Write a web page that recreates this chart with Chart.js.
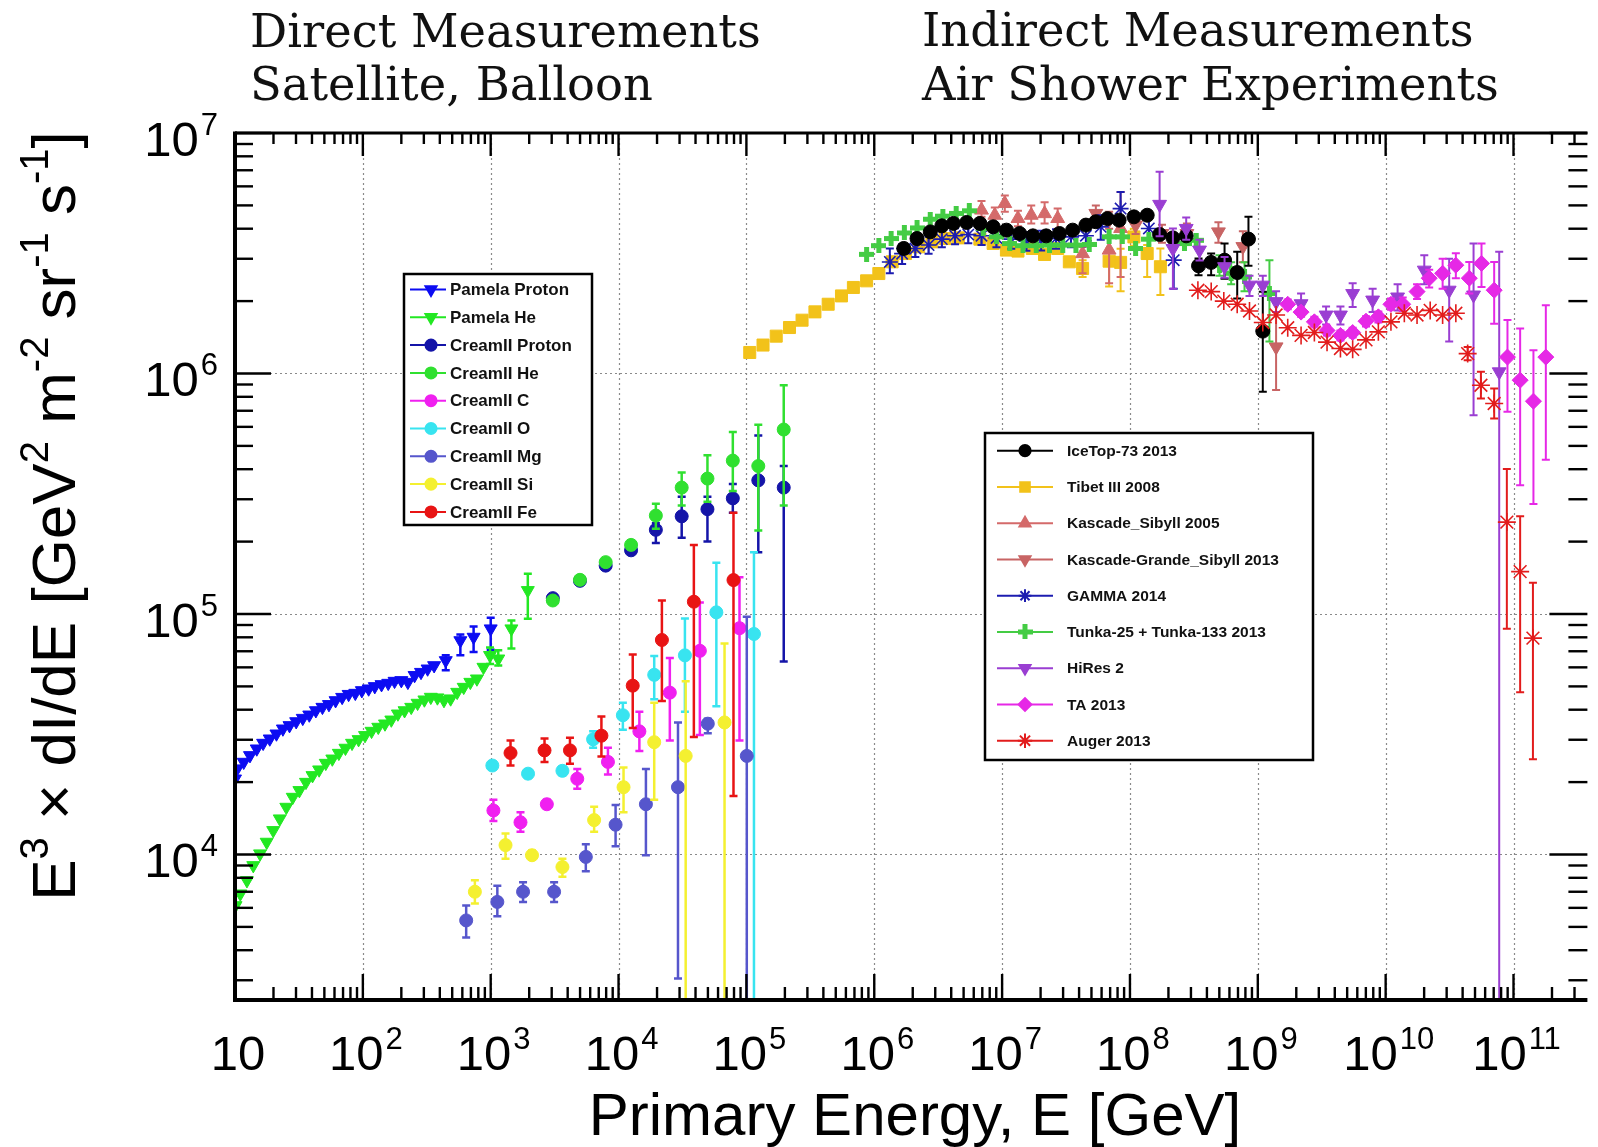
<!DOCTYPE html>
<html>
<head>
<meta charset="utf-8">
<script src="https://cdn.jsdelivr.net/npm/chart.js@4.4.1/dist/chart.umd.min.js"></script>
<style>
html, body { margin: 0; padding: 0; background: #fff; }
#wrap { width: 1598px; height: 1147px; }
</style>
</head>
<body>
<div id="wrap"><canvas id="spectrum" width="1598" height="1147"></canvas></div>
<script>
// ---- data: energy E [GeV], flux E^3 dI/dE, error bar low / high (null = no bar) ----
var pamelaProtonE = [10, 10.4, 11.7, 13.1, 14.8, 16.6, 18.7, 21.1, 23.7, 26.7, 30.1, 33.9, 38.1, 42.9, 48.3, 54.3, 61.2, 68.9, 77.4, 87.3, 98.2, 111, 124, 140, 158, 177, 200, 225, 254, 285, 321, 361, 445, 579, 735, 1000];
var pamelaProtonF = [20650, 22750, 24230, 25830, 27530, 29060, 30290, 31770, 33330, 34420, 35730, 36900, 38100, 39700, 41000, 42100, 43700, 45100, 46400, 46900, 48100, 48900, 50000, 50960, 51600, 52600, 52960, 52100, 55600, 57300, 59200, 61100, 64100, 77600, 80200, 86900];
var pamelaProtonLo = [null, null, null, null, null, null, null, null, null, null, null, null, null, null, null, null, null, null, null, null, null, null, null, null, null, null, null, null, null, null, null, null, 58300, 67300, 69500, 71000];
var pamelaProtonHi = [null, null, null, null, null, null, null, null, null, null, null, null, null, null, null, null, null, null, null, null, null, null, null, null, null, null, null, null, null, null, null, null, 67300, 82200, 88700, 96400];

var pamelaHeE = [10.1, 11.0, 12.4, 13.9, 15.7, 17.7, 19.9, 22.4, 25.2, 28.3, 31.9, 35.9, 40.4, 45.5, 51.3, 57.7, 64.9, 73.1, 82.3, 92.6, 104, 117, 132, 149, 167, 188, 212, 239, 268, 303, 340, 383, 431, 486, 547, 615, 693, 780, 878, 988, 1146, 1452, 1951];
var pamelaHeF = [6140, 6870, 7800, 9010, 10080, 11270, 12600, 14090, 15750, 17330, 18480, 20000, 21330, 22520, 23990, 25000, 26400, 27720, 29060, 30100, 31290, 32600, 33880, 34970, 36310, 38470, 39700, 41000, 42630, 44010, 45140, 44880, 43750, 44450, 47340, 49660, 52100, 53800, 60150, 67350, 65150, 86900, 125400];
var pamelaHeLo = [null, null, null, null, null, null, null, null, null, null, null, null, null, null, null, null, null, null, null, null, null, null, null, null, null, null, null, null, null, null, null, null, null, null, null, null, null, null, null, 62000, 61100, 71800, 95500];
var pamelaHeHi = [null, null, null, null, null, null, null, null, null, null, null, null, null, null, null, null, null, null, null, null, null, null, null, null, null, null, null, null, null, null, null, null, null, null, null, null, null, null, null, 72500, 70600, 94000, 146900];

var creamE = [3060, 4990, 7930, 12530, 19580, 31180, 49580, 78300, 123900, 195900];
var creamProtonF = [116400, 137400, 158900, 184000, 223900, 254800, 272800, 302600, 359600, 335500];
var creamProtonLo = [113000, 133000, 154000, 178000, 197300, 207500, 200400, 263600, 180800, 63400];
var creamProtonHi = [120000, 142000, 164000, 190000, 238300, 307600, 307600, 347500, 552100, 412300];
var creamHeF = [113800, 138700, 164300, 193800, 256600, 335500, 365700, 434300, 412300, 584800];
var creamHeLo = [110000, 134000, 158000, 186000, 226000, 282400, 292700, 324300, 222300, 282400];
var creamHeHi = [117500, 143500, 170500, 201500, 287600, 387300, 457100, 571500, 612500, 893000];

var creamCE = [1050, 1710, 2748, 4753, 8260, 14550, 25180, 43250, 88310];
var creamCF = [15240, 13610, 16180, 20650, 24270, 32510, 47100, 70300, 87300];
var creamCLo = [13770, 12420, 15500, 18750, 21530, 26920, 29790, 31410, 29790];
var creamCHi = [16900, 15000, 16900, 22650, 27800, 39270, 65600, 111700, 142200];

var creamOE = [1030, 1959, 3639, 6324, 10810, 19010, 33040, 58210, 114600];
var creamOF = [23440, 21680, 22280, 30130, 37930, 55850, 67300, 101600, 82600];
var creamOLo = [22500, 20800, 21400, 27800, 33040, 44260, 39270, 41300, 1000];
var creamOHi = [24400, 22600, 23200, 32510, 42760, 66830, 95700, 163300, 180700];

var creamMgE = [643, 1127, 1791, 3133, 5546, 9480, 16370, 29170, 49890, 100700];
var creamMgF = [5320, 6350, 7000, 7000, 9770, 13300, 16180, 19050, 34990, 25700];
var creamMgLo = [4520, 5530, 6350, 6350, 8510, 10810, 9930, 3050, 31910, 1000];
var creamMgHi = [6140, 7410, 7670, 7670, 11020, 16070, 22650, 35400, 36640, 97500];

var creamSiE = [752, 1306, 2104, 3639, 6442, 10940, 19010, 33500, 67450];
var creamSiF = [7000, 10940, 9930, 8870, 13900, 19050, 29310, 25700, 35400];
var creamSiLo = [6250, 9590, 9500, 8090, 12420, 15000, 16900, 1000, 1000];
var creamSiHi = [7820, 12220, 10400, 9590, 15780, 23010, 42760, 52480, 75340];

var creamFeE = [1429, 2636, 4169, 7345, 12910, 21830, 38820, 79250];
var creamFeF = [26420, 27100, 27100, 31190, 50350, 77980, 112500, 138400];
var creamFeLo = [23440, 24270, 23820, 25530, 33570, 43450, 30830, 17500];
var creamFeHi = [29790, 30340, 30550, 37500, 67920, 113800, 193600, 263600];

var iceTopE = [1.702e6, 2.160e6, 2.742e6, 3.377e6, 4.159e6, 5.280e6, 6.702e6, 8.511e6, 1.081e7, 1.372e7, 1.742e7, 2.211e7, 2.807e7, 3.564e7, 4.524e7, 5.408e7, 6.668e7, 8.222e7, 1.074e8, 1.364e8, 1.706e8, 2.168e8, 2.754e8, 3.439e8, 4.315e8, 5.495e8, 6.902e8, 8.451e8, 1.094e9];
var iceTopF = [3.311e6, 3.640e6, 3.880e6, 4.111e6, 4.207e6, 4.246e6, 4.207e6, 4.074e6, 3.945e6, 3.820e6, 3.735e6, 3.735e6, 3.820e6, 3.945e6, 4.140e6, 4.276e6, 4.406e6, 4.342e6, 4.480e6, 4.551e6, 3.785e6, 3.664e6, 3.735e6, 2.805e6, 2.897e6, 2.958e6, 2.630e6, 3.622e6, 1.500e6];
var iceTopLo = [null, null, null, null, null, null, null, null, null, null, null, null, null, null, null, null, null, null, null, null, null, null, null, 2.564e6, 2.56e6, 2.48e6, 2.05e6, 2.805e6, 8.39e5];
var iceTopHi = [null, null, null, null, null, null, null, null, null, null, null, null, null, null, null, null, null, null, null, null, null, null, null, 3.006e6, 3.155e6, 3.475e6, 3.21e6, 4.48e6, 2.188e6];

var tibetE = [1.062e5, 1.349e5, 1.711e5, 2.173e5, 2.725e5, 3.436e5, 4.362e5, 5.541e5, 6.868e5, 8.714e5, 1.086e6, 1.380e6, 1.753e6, 2.224e6, 2.825e6, 3.583e6, 4.549e6, 6.702e6, 8.511e6, 1.081e7, 1.331e7, 1.722e7, 2.147e7, 2.723e7, 3.356e7, 4.262e7, 6.871e7, 8.453e7, 1.074e8, 1.364e8, 1.730e8];
var tibetF = [1.223e6, 1.313e6, 1.430e6, 1.553e6, 1.666e6, 1.804e6, 1.941e6, 2.102e6, 2.279e6, 2.428e6, 2.604e6, 2.913e6, 3.154e6, 3.364e6, 3.526e6, 3.640e6, 3.664e6, 3.620e6, 3.474e6, 3.259e6, 3.228e6, 3.311e6, 3.126e6, 3.311e6, 2.913e6, 2.733e6, 2.932e6, 2.897e6, 3.698e6, 3.154e6, 2.779e6];
var tibetLo = [null, null, null, null, null, null, null, null, null, null, null, null, null, null, null, null, null, null, null, null, null, null, null, null, null, 2.52e6, 2.3e6, 2.2e6, 3.4e6, 2.52e6, 2.12e6];
var tibetHi = [null, null, null, null, null, null, null, null, null, null, null, null, null, null, null, null, null, null, null, null, null, null, null, null, null, 2.96e6, 3.3e6, 3.3e6, 4.0e6, 3.42e6, 3.31e6];

var kascadeE = [6.90e6, 8.77e6, 1.05e7, 1.33e7, 1.69e7, 2.15e7, 2.72e7, 4.26e7, 6.87e7, 8.45e7];
var kascadeF = [4.78e6, 4.55e6, 5.09e6, 4.41e6, 4.55e6, 4.62e6, 4.41e6, 3.15e6, 3.26e6, 4.01e6];
var kascadeLo = [4.48e6, 4.2e6, 4.7e6, 4.1e6, 4.2e6, 4.2e6, 4.0e6, 2.61e6, 2.37e6, 2.52e6];
var kascadeHi = [5.21e6, 4.9e6, 5.5e6, 4.75e6, 5.0e6, 5.15e6, 4.85e6, 3.36e6, 3.76e6, 5.69e6];

var grandeE = [5.41e7, 6.87e7, 1.107e8, 1.78e8, 2.79e8, 4.92e8, 7.64e8, 1.39e9];
var grandeF = [4.63e6, 4.34e6, 4.14e6, 3.82e6, 3.82e6, 3.88e6, 3.37e6, 1.29e6];
var grandeLo = [4.3e6, 4.0e6, 3.8e6, 3.5e6, 3.45e6, 3.5e6, 2.9e6, 8.53e5];
var grandeHi = [5.0e6, 4.7e6, 4.5e6, 4.15e6, 4.2e6, 4.25e6, 3.9e6, 1.80e6];

var gammaE = [1.324e6, 1.652e6, 2.096e6, 2.661e6, 3.377e6, 4.285e6, 5.439e6, 6.903e6, 9.03e6, 1.18e7, 1.55e7, 2.02e7, 2.64e7, 3.46e7, 4.52e7, 5.91e7, 8.45e7, 1.406e8, 2.20e8];
var gammaF = [2.91e6, 3.15e6, 3.31e6, 3.42e6, 3.62e6, 3.74e6, 3.78e6, 3.74e6, 3.66e6, 3.62e6, 3.55e6, 3.58e6, 3.64e6, 3.70e6, 3.74e6, 4.07e6, 4.85e6, 4.01e6, 2.96e6];
var gammaLo = [2.61e6, 2.85e6, 3.05e6, 3.15e6, 3.35e6, 3.45e6, 3.48e6, 3.42e6, 3.35e6, 3.3e6, 3.24e6, 3.25e6, 3.3e6, 3.35e6, 3.38e6, 3.6e6, 4.34e6, 3.6e6, 2.25e6];
var gammaHi = [3.31e6, 3.45e6, 3.58e6, 3.7e6, 3.9e6, 4.02e6, 4.08e6, 4.05e6, 3.98e6, 3.95e6, 3.88e6, 3.92e6, 3.98e6, 4.06e6, 4.12e6, 4.55e6, 5.69e6, 4.45e6, 3.70e6];

var tunkaE = [8.71e5, 1.086e6, 1.355e6, 1.72e6, 2.16e6, 2.74e6, 3.44e6, 4.37e6, 5.54e6, 7.12e6, 9.03e6, 1.148e7, 1.457e7, 1.849e7, 2.346e7, 2.98e7, 3.78e7, 4.80e7, 6.87e7, 8.71e7, 1.107e8, 1.406e8, 2.67e8, 3.30e8, 5.02e8, 6.19e8, 7.87e8, 1.233e9];
var tunkaF = [3.13e6, 3.40e6, 3.64e6, 3.84e6, 4.03e6, 4.38e6, 4.51e6, 4.63e6, 4.75e6, 4.01e6, 3.70e6, 3.47e6, 3.40e6, 3.40e6, 3.42e6, 3.42e6, 3.42e6, 3.44e6, 3.70e6, 3.70e6, 3.31e6, 3.62e6, 3.47e6, 3.58e6, 2.82e6, 2.61e6, 2.52e6, 2.15e6];
var tunkaLo = [null, null, null, null, null, null, null, null, null, null, null, null, null, null, null, null, null, null, null, null, null, null, null, null, 2.55e6, 2.35e6, 2.2e6, 1.36e6];
var tunkaHi = [null, null, null, null, null, null, null, null, null, null, null, null, null, null, null, null, null, null, null, null, null, null, null, null, 3.1e6, 2.9e6, 2.9e6, 2.96e6];

var hiresE = [1.706e8, 2.168e8, 2.754e8, 3.50e8, 5.495e8, 8.61e8, 1.094e9, 1.39e9, 2.18e9, 3.42e9, 4.43e9, 5.52e9, 7.91e9, 1.24e10, 2.005e10, 3.14e10, 4.87e10, 7.73e10];
var hiresF = [5.05e6, 3.31e6, 4.01e6, 3.26e6, 2.78e6, 2.33e6, 2.33e6, 1.99e6, 1.95e6, 1.75e6, 1.75e6, 2.15e6, 2.02e6, 2.08e6, 2.69e6, 2.22e6, 2.12e6, 1.016e6];
var hiresLo = [3.72e6, 2.25e6, 3.6e6, 2.95e6, 2.5e6, 2.1e6, 2.1e6, 1.8e6, 1.78e6, 1.6e6, 1.6e6, 1.89e6, 1.8e6, 1.83e6, 2.35e6, 1.36e6, 6.71e5, 1000];
var hiresHi = [6.9e6, 4.01e6, 4.45e6, 3.6e6, 3.05e6, 2.55e6, 2.55e6, 2.2e6, 2.15e6, 1.9e6, 1.9e6, 2.37e6, 2.25e6, 2.35e6, 3.1e6, 3.0e6, 3.47e6, 3.21e6];

var taE = [1.714e9, 2.18e9, 2.77e9, 3.48e9, 4.43e9, 5.52e9, 7.02e9, 8.77e9, 1.10e10, 1.36e10, 1.76e10, 2.19e10, 2.79e10, 3.54e10, 4.51e10, 5.62e10, 7.06e10, 8.97e10, 1.127e11, 1.432e11, 1.79e11];
var taF = [1.94e6, 1.80e6, 1.64e6, 1.51e6, 1.44e6, 1.48e6, 1.65e6, 1.72e6, 1.94e6, 1.94e6, 2.19e6, 2.49e6, 2.61e6, 2.82e6, 2.49e6, 2.87e6, 2.22e6, 1.17e6, 9.38e5, 7.67e5, 1.17e6];
var taLo = [1.85e6, 1.72e6, 1.57e6, 1.44e6, 1.37e6, 1.41e6, 1.57e6, 1.63e6, 1.84e6, 1.82e6, 2.04e6, 2.28e6, 2.25e6, 2.49e6, 2.15e6, 2.29e6, 1.61e6, 6.93e5, 3.43e5, 2.87e5, 4.38e5];
var taHi = [2.03e6, 1.88e6, 1.72e6, 1.58e6, 1.51e6, 1.55e6, 1.73e6, 1.81e6, 2.05e6, 2.07e6, 2.35e6, 2.7e6, 3.0e6, 3.16e6, 2.91e6, 3.47e6, 2.91e6, 1.67e6, 1.54e6, 1.25e6, 1.92e6];

var augerE = [3.40e8, 4.32e8, 5.42e8, 6.90e8, 8.61e8, 1.094e9, 1.39e9, 1.714e9, 2.18e9, 2.77e9, 3.48e9, 4.43e9, 5.52e9, 7.02e9, 8.77e9, 1.10e10, 1.40e10, 1.76e10, 2.23e10, 2.79e10, 3.54e10, 4.38e10, 5.56e10, 7.06e10, 8.87e10, 1.127e11, 1.419e11];
var augerF = [2.22e6, 2.19e6, 2.00e6, 1.94e6, 1.82e6, 1.63e6, 1.75e6, 1.55e6, 1.44e6, 1.48e6, 1.35e6, 1.27e6, 1.26e6, 1.38e6, 1.49e6, 1.64e6, 1.78e6, 1.75e6, 1.83e6, 1.75e6, 1.78e6, 1.21e6, 8.94e5, 7.50e5, 2.41e5, 1.50e5, 7.94e4];
var augerLo = [null, null, null, null, null, null, null, null, null, null, null, null, null, null, null, null, null, null, null, null, null, 1.135e6, 7.87e5, 6.5e5, 8.69e4, 4.73e4, 2.49e4];
var augerHi = [null, null, null, null, null, null, null, null, null, null, null, null, null, null, null, null, null, null, null, null, null, 1.29e6, 1.016e6, 8.67e5, 4.01e5, 2.55e5, 1.35e5];

// axis ranges and decade tick exponents
var X_MIN = 10, X_MAX = Math.pow(10, 11.578);
var Y_MIN = Math.pow(10, 3.395), Y_MAX = 1e7;
var xTickExps = [1, 2, 3, 4, 5, 6, 7, 8, 9, 10, 11];
var yTickExps = [4, 5, 6, 7];

// filled cross marker (Tunka)
function makeCross(color, s, w) {
    var c = document.createElement('canvas');
    c.width = s; c.height = s;
    var g = c.getContext('2d');
    g.fillStyle = color;
    var m = (s - w) / 2;
    g.fillRect(m, 0, w, s);
    g.fillRect(0, m, s, w);
    return c;
}
var tunkaCross = makeCross('#44cc44', 15, 5);

var series = [
    {label: 'Pamela Proton', x: pamelaProtonE, y: pamelaProtonF, lo: pamelaProtonLo, hi: pamelaProtonHi, color: '#0c0cf2', style: 'triangle', rot: 180, r: 7.5, box: 'L', z: 1},
    {label: 'Pamela He', x: pamelaHeE, y: pamelaHeF, lo: pamelaHeLo, hi: pamelaHeHi, color: '#22e822', style: 'triangle', rot: 180, r: 7.5, box: 'L', z: 2},
    {label: 'CreamII Proton', x: creamE, y: creamProtonF, lo: creamProtonLo, hi: creamProtonHi, color: '#1414a8', style: 'circle', r: 6.5, box: 'L', z: 3},
    {label: 'CreamII He', x: creamE, y: creamHeF, lo: creamHeLo, hi: creamHeHi, color: '#30e030', style: 'circle', r: 6.5, box: 'L', z: 4},
    {label: 'CreamII C', x: creamCE, y: creamCF, lo: creamCLo, hi: creamCHi, color: '#f020f0', style: 'circle', r: 6.5, box: 'L', z: 5},
    {label: 'CreamII O', x: creamOE, y: creamOF, lo: creamOLo, hi: creamOHi, color: '#38e4f0', style: 'circle', r: 6.5, box: 'L', z: 6},
    {label: 'CreamII Mg', x: creamMgE, y: creamMgF, lo: creamMgLo, hi: creamMgHi, color: '#5656cc', style: 'circle', r: 6.5, box: 'L', z: 7},
    {label: 'CreamII Si', x: creamSiE, y: creamSiF, lo: creamSiLo, hi: creamSiHi, color: '#f4f030', style: 'circle', r: 6.5, box: 'L', z: 8},
    {label: 'CreamII Fe', x: creamFeE, y: creamFeF, lo: creamFeLo, hi: creamFeHi, color: '#e81414', style: 'circle', r: 6.5, box: 'L', z: 9},
    {label: 'IceTop-73 2013', x: iceTopE, y: iceTopF, lo: iceTopLo, hi: iceTopHi, color: '#000000', style: 'circle', r: 7, box: 'R', z: 16},
    {label: 'Tibet III 2008', x: tibetE, y: tibetF, lo: tibetLo, hi: tibetHi, color: '#f2c21a', style: 'rect', r: 8.5, box: 'R', z: 11},
    {label: 'Kascade_Sibyll 2005', x: kascadeE, y: kascadeF, lo: kascadeLo, hi: kascadeHi, color: '#d46a6a', style: 'triangle', rot: 0, r: 8, box: 'R', z: 12},
    {label: 'Kascade-Grande_Sibyll 2013', x: grandeE, y: grandeF, lo: grandeLo, hi: grandeHi, color: '#c86464', style: 'triangle', rot: 180, r: 8, box: 'R', z: 13},
    {label: 'GAMMA 2014', x: gammaE, y: gammaF, lo: gammaLo, hi: gammaHi, color: '#1c1cb0', style: 'star', r: 8, bw: 1.6, box: 'R', z: 14},
    {label: 'Tunka-25 + Tunka-133 2013', x: tunkaE, y: tunkaF, lo: tunkaLo, hi: tunkaHi, color: '#44cc44', style: tunkaCross, r: 7, box: 'R', z: 15},
    {label: 'HiRes 2', x: hiresE, y: hiresF, lo: hiresLo, hi: hiresHi, color: '#9a3ed2', style: 'triangle', rot: 180, r: 8, box: 'R', z: 17},
    {label: 'TA 2013', x: taE, y: taF, lo: taLo, hi: taHi, color: '#e628e6', style: 'rectRot', r: 8, box: 'R', z: 18},
    {label: 'Auger 2013', x: augerE, y: augerF, lo: augerLo, hi: augerHi, color: '#e21c1c', style: 'star', r: 9, bw: 1.6, box: 'R', z: 19}
];

function line(ctx, x0, y0, x1, y1) {
    ctx.beginPath(); ctx.moveTo(x0, y0); ctx.lineTo(x1, y1); ctx.stroke();
}

// "10" with superscript exponent
function drawPow10(ctx, e, x, y, align) {
    ctx.font = '49px "Liberation Sans", Arial, sans-serif';
    var wb = ctx.measureText('10').width;
    var sup = e === 1 ? '' : String(e);
    ctx.font = '31px "Liberation Sans", Arial, sans-serif';
    var ws = sup ? ctx.measureText(sup).width + 2 : 0;
    var total = wb + ws;
    var x0 = align === 'center' ? x - total / 2 : x - total;
    ctx.textAlign = 'left';
    ctx.textBaseline = 'alphabetic';
    ctx.font = '49px "Liberation Sans", Arial, sans-serif';
    ctx.fillText('10', x0, y);
    if (sup) {
        ctx.font = '31px "Liberation Sans", Arial, sans-serif';
        ctx.fillText(sup, x0 + wb + 2, y - 21);
    }
}

// text with superscripts, centered at (0,0) baseline
function drawRich(ctx, segs, size) {
    var supSize = Math.round(size * 0.64);
    var parts = segs.map(function (s) {
        ctx.font = (s[1] ? supSize : size) + 'px "Liberation Sans", Arial, sans-serif';
        return {t: s[0], sup: s[1], w: ctx.measureText(s[0]).width};
    });
    var total = parts.reduce(function (a, p) { return a + p.w; }, 0);
    var x = -total / 2;
    ctx.textAlign = 'left';
    ctx.textBaseline = 'alphabetic';
    parts.forEach(function (p) {
        ctx.font = (p.sup ? supSize : size) + 'px "Liberation Sans", Arial, sans-serif';
        ctx.fillText(p.t, x, p.sup ? -size * 0.44 : 0);
        x += p.w;
    });
}

function drawMarker(ctx, s, x, y, scale) {
    ctx.fillStyle = s.color;
    ctx.strokeStyle = s.color;
    Chart.helpers.drawPoint(ctx, {pointStyle: s.style, rotation: s.rot || 0, radius: s.r * scale, borderWidth: s.bw || 1}, x, y);
}

function drawLegend(ctx, list, bx, by, bw, bh, rowY, gap, lx0, lx1, mx, tx, font, scale) {
    ctx.fillStyle = '#fff';
    ctx.fillRect(bx, by, bw, bh);
    ctx.strokeStyle = '#000';
    ctx.lineWidth = 2.5;
    ctx.strokeRect(bx, by, bw, bh);
    list.forEach(function (s, i) {
        var y = rowY + i * gap;
        ctx.strokeStyle = s.color;
        ctx.lineWidth = 2;
        line(ctx, lx0, y, lx1, y);
        drawMarker(ctx, s, mx, y, scale);
        ctx.fillStyle = '#111';
        ctx.font = font;
        ctx.textAlign = 'left';
        ctx.textBaseline = 'middle';
        ctx.fillText(s.label, tx, y + 1);
    });
}

var rootStyle = {
    id: 'rootStyle',
    beforeDraw: function (chart) {
        var ctx = chart.ctx;
        ctx.save();
        ctx.fillStyle = '#fff';
        ctx.fillRect(0, 0, chart.width, chart.height);
        ctx.restore();
    },
    beforeDatasetsDraw: function (chart) {
        // dotted grid at decades
        var ctx = chart.ctx, a = chart.chartArea, xs = chart.scales.x, ys = chart.scales.y;
        ctx.save();
        ctx.strokeStyle = '#8a8a8a';
        ctx.lineWidth = 1.2;
        ctx.setLineDash([2, 3]);
        xTickExps.forEach(function (e) {
            if (e === 1) return;
            var px = Math.round(xs.getPixelForValue(Math.pow(10, e))) + 0.5;
            line(ctx, px, a.top, px, a.bottom);
        });
        yTickExps.forEach(function (e) {
            if (e === 7) return;
            var py = Math.round(ys.getPixelForValue(Math.pow(10, e))) + 0.5;
            line(ctx, a.left, py, a.right, py);
        });
        ctx.restore();
    },
    beforeDatasetDraw: function (chart, args) {
        // vertical error bars with short end caps
        var ds = chart.data.datasets[args.index];
        if (!ds.errLo) return;
        var ctx = chart.ctx, a = chart.chartArea, xs = chart.scales.x, ys = chart.scales.y;
        ctx.save();
        ctx.beginPath();
        ctx.rect(a.left, a.top, a.right - a.left, a.bottom - a.top);
        ctx.clip();
        ctx.strokeStyle = ds.pointBorderColor;
        ctx.lineWidth = ds.errWidth;
        ds.data.forEach(function (p, i) {
            var lo = ds.errLo[i], hi = ds.errHi[i];
            if (lo == null || hi == null) return;
            var px = xs.getPixelForValue(p.x);
            var y0 = ys.getPixelForValue(hi), y1 = ys.getPixelForValue(lo);
            line(ctx, px, y0, px, y1);
            line(ctx, px - 4, y0, px + 4, y0);
            line(ctx, px - 4, y1, px + 4, y1);
        });
        ctx.restore();
    },
    afterDraw: function (chart) {
        var ctx = chart.ctx, a = chart.chartArea, xs = chart.scales.x, ys = chart.scales.y;
        ctx.save();
        ctx.strokeStyle = '#000';
        ctx.fillStyle = '#000';

        // ticks on all four sides
        ctx.lineWidth = 2.4;
        for (var e = 1; e <= 11; e++) {
            for (var k = 1; k <= 9; k++) {
                var v = k * Math.pow(10, e);
                if (v < X_MIN || v > X_MAX) continue;
                var px = xs.getPixelForValue(v);
                var major = k === 1;
                line(ctx, px, a.bottom, px, a.bottom - (major ? 26 : 13));
                line(ctx, px, a.top, px, a.top + (major ? 23 : 11));
            }
        }
        for (var ey = 3; ey <= 7; ey++) {
            for (var ky = 1; ky <= 9; ky++) {
                var vy = ky * Math.pow(10, ey);
                if (vy < Y_MIN || vy > Y_MAX) continue;
                var py = ys.getPixelForValue(vy);
                var maj = ky === 1;
                line(ctx, a.left, py, a.left + (maj ? 36 : 18), py);
                line(ctx, a.right, py, a.right - (maj ? 38 : 19), py);
            }
        }

        // frame
        ctx.lineWidth = 4;
        line(ctx, a.left, a.top - 1.5, a.left, a.bottom + 2);
        line(ctx, a.left - 2, a.bottom, a.right, a.bottom);
        ctx.lineWidth = 3;
        line(ctx, a.left, a.top, a.right, a.top);

        // tick labels
        ctx.fillStyle = '#000';
        xTickExps.forEach(function (e) {
            drawPow10(ctx, e, xs.getPixelForValue(Math.pow(10, e)) + 3, 1070, 'center');
        });
        yTickExps.forEach(function (e) {
            drawPow10(ctx, e, 218, ys.getPixelForValue(Math.pow(10, e)) + 23, 'right');
        });

        // axis titles
        ctx.save();
        ctx.translate(915, 1135);
        drawRich(ctx, [['Primary Energy, E [GeV]', 0]], 60);
        ctx.restore();
        ctx.save();
        ctx.translate(75, 516);
        ctx.rotate(-Math.PI / 2);
        drawRich(ctx, [['E', 0], ['3', 1], [' \u00d7 dI/dE [GeV', 0], ['2', 1], [' m', 0], ['-2', 1], [' sr', 0], ['-1', 1], [' s', 0], ['-1', 1], [']', 0]], 62);
        ctx.restore();

        // headings (serif)
        ctx.font = '44px "DejaVu Serif", serif';
        var size = 44 * 511 / ctx.measureText('Direct Measurements').width;
        ctx.font = size.toFixed(1) + 'px "DejaVu Serif", serif';
        ctx.textAlign = 'left';
        ctx.textBaseline = 'alphabetic';
        ctx.fillStyle = '#111';
        ctx.fillText('Direct Measurements', 250, 47);
        ctx.fillText('Satellite, Balloon', 250, 100);
        ctx.fillText('Indirect Measurements', 922, 46);
        ctx.fillText('Air Shower Experiments', 922, 100);

        // legends
        var left = series.filter(function (s) { return s.box === 'L'; });
        var right = series.filter(function (s) { return s.box === 'R'; });
        drawLegend(ctx, left, 404, 274, 188, 251, 289.5, 27.8, 410, 446, 431, 450, 'bold 17px "Liberation Sans", Arial, sans-serif', 0.85);
        drawLegend(ctx, right, 985, 433, 328, 327, 450.7, 36.25, 997, 1053, 1025, 1067, 'bold 15.5px "Liberation Sans", Arial, sans-serif', 0.8);
        ctx.restore();
    }
};

var datasets = series.map(function (s) {
    return {
        label: s.label,
        data: s.x.map(function (v, j) { return {x: v, y: s.y[j]}; }),
        showLine: false,
        pointStyle: s.style,
        pointRotation: s.rot || 0,
        pointRadius: s.r,
        pointBackgroundColor: s.color,
        pointBorderColor: s.color,
        pointBorderWidth: s.bw || 1,
        order: -s.z,
        errLo: s.lo,
        errHi: s.hi,
        errWidth: s.box === 'L' ? 2.5 : 2
    };
});

new Chart(document.getElementById('spectrum'), {
    type: 'scatter',
    data: {datasets: datasets},
    options: {
        responsive: false,
        animation: false,
        devicePixelRatio: 1,
        events: [],
        layout: {padding: {left: 235, right: 0, top: 133, bottom: 147}},
        plugins: {legend: {display: false}, tooltip: {enabled: false}},
        scales: {
            x: {type: 'logarithmic', min: X_MIN, max: X_MAX, display: false},
            y: {type: 'logarithmic', min: Y_MIN, max: Y_MAX, display: false}
        }
    },
    plugins: [rootStyle]
});
</script>
</body>
</html>
